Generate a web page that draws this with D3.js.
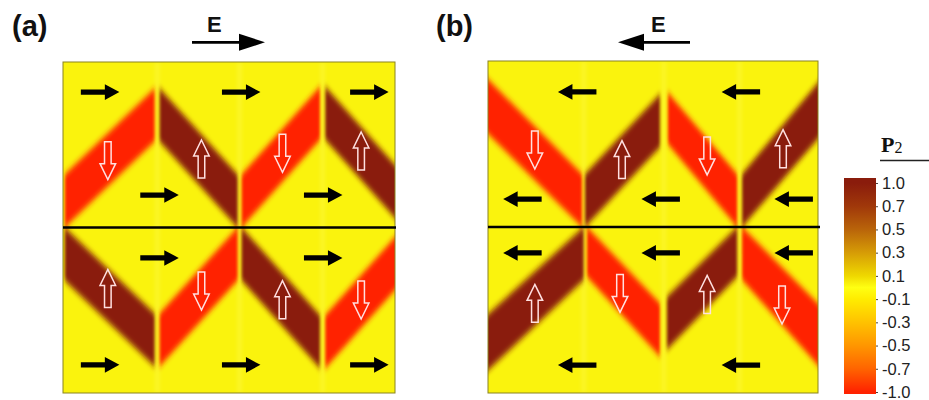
<!DOCTYPE html>
<html>
<head>
<meta charset="utf-8">
<script src="https://cdn.jsdelivr.net/npm/d3@7"></script>
<style>
  body { margin: 0; background: #fff; }
  svg { display: block; }
</style>
</head>
<body>
<script>
// colour bar: tick values / labels and the colour at each stop
const p2Ticks = [1.0, 0.7, 0.5, 0.3, 0.1, -0.1, -0.3, -0.5, -0.7, -1.0]
const p2TickLabels = ["1.0", "0.7", "0.5", "0.3", "0.1", "-0.1", "-0.3", "-0.5", "-0.7", "-1.0"]
const p2Stops = [1, 0.7, 0.5, 0.3, 0.1, 0, -0.1, -0.3, -0.5, -0.7, -1]
const p2Colors = ["#8a1c0c", "#a0380a", "#b9640a", "#d69c06", "#efd800", "#ffff12",
                  "#ffec00", "#ffc200", "#ff9600", "#ff6400", "#ff2200"]

// value of the yellow in-plane regions
const p2Background = 0.03

// out-of-plane domains, model units 0..100 (y down, centre line at 50)
// [p2, xA, yA_top, yA_bottom, xB, yB_top, yB_bottom]
const domainsA = [
  [-1, 0.5, 34, 50, 27.6, 8, 24],
  [ 1, 29.1, 8, 24, 52.6, 34, 50],
  [-1, 53.8, 34, 50, 77.4, 7.5, 23.5],
  [ 1, 79.0, 7.5, 23.5, 102.6, 34, 50],
  [ 1, 0.5, 50, 66, 27.6, 76, 92],
  [-1, 29.1, 76, 92, 52.6, 50, 66],
  [ 1, 53.8, 50, 66, 77.4, 76.5, 92.5],
  [-1, 79.0, 76.5, 92.5, 102.6, 50, 66]
]
const domainsB = [
  [-1, -3, 2.5, 19, 28.5, 34, 50],
  [-1, 54.5, 9.5, 25, 75.5, 34, 50],
  [-1, 30, 50, 65, 52.1, 73, 89],
  [-1, 77, 50, 66, 103, 76, 95],
  [ 1, 29.4, 34, 50, 52.1, 10, 26],
  [ 1, 77, 34, 50, 103, 3, 20],
  [ 1, -3, 79, 96, 29, 50, 66],
  [ 1, 54.2, 71, 87, 75.5, 50, 65]
]

// faint seams in the in-plane regions (x positions, model units)
const seamsA = [28.4, 53.2, 78.2]
const seamsB = [29.0, 53.3, 76.2]

// in-plane polarisation arrows [x, y, direction]
const arrowsA = [
  [11.1, 9.1, 1], [53.6, 9.1, 1], [92.2, 9.1, 1],
  [29.0, 40.2, 1], [78.3, 40.2, 1],
  [29.0, 59.2, 1], [78.3, 59.2, 1],
  [11.1, 91.5, 1], [53.6, 91.5, 1], [92.2, 91.5, 1]
]
const arrowsB = [
  [27.1, 9.3, -1], [76.7, 9.3, -1],
  [10.5, 41.6, -1], [52.4, 41.6, -1], [92.7, 41.6, -1],
  [10.5, 57.8, -1], [52.4, 57.8, -1], [92.7, 57.8, -1],
  [27.1, 91.6, -1], [76.7, 91.6, -1]
]

// out-of-plane polarisation markers [x, y, sign]
const markersA = [
  [13.5, 29.8, -1], [41.7, 29.3, 1], [66.1, 27.6, -1], [89.8, 26.9, 1],
  [13.5, 68.4, 1], [41.7, 69.2, -1], [66.1, 71.8, 1], [89.8, 71.9, -1]
]
const markersB = [
  [14.2, 26.8, -1], [40.6, 29.7, 1], [66.4, 28.6, -1], [89.4, 26.4, 1],
  [14.2, 73.0, 1], [40.0, 70.0, -1], [66.4, 70.3, 1], [89.1, 73.5, -1]
]

const panelNames = ["(a)", "(b)"]
const fieldDir = [1, -1]

// ----- drawing -----
const W = 929, H = 400
const svg = d3.select('body').append('svg')
    .attr('width', W)
    .attr('height', H)
    .style('background', '#fff')

const color = d3.scaleLinear().domain(p2Stops).range(p2Colors).clamp(true)
const defs = svg.append('defs')

// softer across slanted walls than across the vertical ones
defs.append('filter')
    .attr('id', 'soft')
    .attr('x', '-20%').attr('y', '-20%')
    .attr('width', '140%').attr('height', '140%')
  .append('feGaussianBlur')
    .attr('stdDeviation', '1.6 3.8')

defs.append('filter')
    .attr('id', 'seam')
  .append('feGaussianBlur')
    .attr('stdDeviation', 2)

const panels = [
  { domains: domainsA, seams: seamsA, arrows: arrowsA, markers: markersA,
    x: [63, 395], y: [62, 393], lineEnd: 396, label: [12, 36], e: [207, 32], eArrow: [192, 265] },
  { domains: domainsB, seams: seamsB, arrows: arrowsB, markers: markersB,
    x: [488, 818], y: [61, 393], lineEnd: 820, label: [436, 36], e: [651, 32], eArrow: [690, 618] }
]

const line = d3.line()

function arrowPath(cx, cy, dir) {
  let pts = [[-19, -2.6], [5, -2.6], [5, -7.8], [19.5, 0], [5, 7.8], [5, 2.6], [-19, 2.6]]
  return line(pts.map(p => [cx + dir * p[0], cy + p[1]])) + 'Z'
}

function markerPath(cx, cy, s) {
  // hollow block arrow, pointing up for s = 1
  let L = 19, hl = 16, hw = 7.8, sw = 3.3
  let pts = [[0, -L], [hw, -L + hl], [sw, -L + hl], [sw, L], [-sw, L], [-sw, -L + hl], [-hw, -L + hl]]
  return line(pts.map(q => [cx + q[0], cy + s * q[1]])) + 'Z'
}

panels.forEach((p, i) => {
  let x = d3.scaleLinear().domain([0, 100]).range(p.x)
  let y = d3.scaleLinear().domain([0, 100]).range(p.y)
  let g = svg.append('g')

  defs.append('clipPath').attr('id', 'clip' + i)
    .append('rect')
      .attr('x', p.x[0]).attr('y', p.y[0])
      .attr('width', p.x[1] - p.x[0]).attr('height', p.y[1] - p.y[0])

  let field = g.append('g').attr('clip-path', `url(#clip${i})`)
  field.append('rect')
      .attr('x', p.x[0]).attr('y', p.y[0])
      .attr('width', p.x[1] - p.x[0]).attr('height', p.y[1] - p.y[0])
      .attr('fill', color(p2Background))

  field.append('g')
      .attr('filter', 'url(#seam)')
    .selectAll('line')
    .data(p.seams)
    .join('line')
      .attr('x1', d => x(d)).attr('x2', d => x(d))
      .attr('y1', y(0)).attr('y2', y(100))
      .attr('stroke', '#ffff9a')
      .attr('stroke-opacity', 0.3)
      .attr('stroke-width', 3)

  field.append('g')
      .attr('filter', 'url(#soft)')
    .selectAll('path')
    .data(p.domains)
    .join('path')
      .attr('d', d => line([[x(d[1]), y(d[2])], [x(d[4]), y(d[5])], [x(d[4]), y(d[6])], [x(d[1]), y(d[3])]]) + 'Z')
      .attr('fill', d => color(d[0]))

  // panel frame
  g.append('rect')
      .attr('x', p.x[0]).attr('y', p.y[0])
      .attr('width', p.x[1] - p.x[0]).attr('height', p.y[1] - p.y[0])
      .attr('fill', 'none')
      .attr('stroke', '#8a8420')
      .attr('stroke-width', 1)

  // interface line
  g.append('line')
      .attr('x1', p.x[0]).attr('x2', p.lineEnd)
      .attr('y1', y(50)).attr('y2', y(50))
      .attr('stroke', '#000')
      .attr('stroke-width', 2.5)

  g.append('g').selectAll('path')
    .data(p.arrows)
    .join('path')
      .attr('d', d => arrowPath(x(d[0]), y(d[1]), d[2]))
      .attr('fill', '#000')

  g.append('g').selectAll('path')
    .data(p.markers)
    .join('path')
      .attr('d', d => markerPath(x(d[0]), y(d[1]), d[2]))
      .attr('fill', 'none')
      .attr('stroke', '#ffe0e0')
      .attr('stroke-width', 1.5)

  // panel label
  g.append('text')
      .attr('x', p.label[0]).attr('y', p.label[1])
      .attr('font-family', 'Liberation Sans, Arial, sans-serif')
      .attr('font-weight', 'bold')
      .attr('font-size', 29)
      .attr('fill', '#111')
      .text(panelNames[i])

  // field arrow
  g.append('text')
      .attr('x', p.e[0]).attr('y', p.e[1])
      .attr('font-family', 'Liberation Sans, Arial, sans-serif')
      .attr('font-weight', 'bold')
      .attr('font-size', 22)
      .attr('fill', '#111')
      .text('E')

  let dir = fieldDir[i]
  let tail = p.eArrow[0], tip = p.eArrow[1], ey = 42.3
  let base = tip - dir * 26
  g.append('line')
      .attr('x1', tail).attr('x2', base + dir * 2)
      .attr('y1', ey).attr('y2', ey)
      .attr('stroke', '#000')
      .attr('stroke-width', 2.7)
  g.append('path')
      .attr('d', line([[base, ey - 8.5], [tip, ey], [base, ey + 8.5]]) + 'Z')
      .attr('fill', '#000')
})

// ----- colour bar -----
const bar = { x: 844, w: 32, top: 178, bottom: 394 }
const labelScale = d3.scalePoint().domain(p2TickLabels).range([183, 392])
const valuePos = d3.scaleLinear().domain(p2Ticks).range(p2TickLabels.map(l => labelScale(l)))

const grad = defs.append('linearGradient')
    .attr('id', 'p2grad')
    .attr('x1', 0).attr('x2', 0).attr('y1', 0).attr('y2', 1)
grad.selectAll('stop')
  .data(p2Stops)
  .join('stop')
    .attr('offset', d => Math.max(0, Math.min(1, (valuePos(d) - bar.top) / (bar.bottom - bar.top))))
    .attr('stop-color', d => color(d))

svg.append('rect')
    .attr('x', bar.x).attr('y', bar.top)
    .attr('width', bar.w).attr('height', bar.bottom - bar.top)
    .attr('fill', 'url(#p2grad)')

let ax = svg.append('g')
    .attr('transform', `translate(${bar.x + bar.w},0)`)
    .call(d3.axisRight(labelScale).tickSize(2).tickPadding(4))
ax.select('.domain').remove()
ax.selectAll('line').attr('stroke', '#444')
ax.selectAll('text')
    .attr('font-family', 'Liberation Sans, Arial, sans-serif')
    .attr('font-size', 16.5)
    .attr('fill', '#222')

let title = svg.append('text')
    .attr('x', 881).attr('y', 152)
    .attr('font-family', 'Liberation Serif, Times New Roman, serif')
    .attr('fill', '#111')
title.append('tspan').attr('font-weight', 'bold').attr('font-size', 22).text('P')
title.append('tspan').attr('font-size', 16).attr('dy', 1).text('2')

svg.append('line')
    .attr('x1', 880).attr('x2', 929)
    .attr('y1', 160.5).attr('y2', 160.5)
    .attr('stroke', '#222')
    .attr('stroke-width', 1.6)
</script>
</body>
</html>
